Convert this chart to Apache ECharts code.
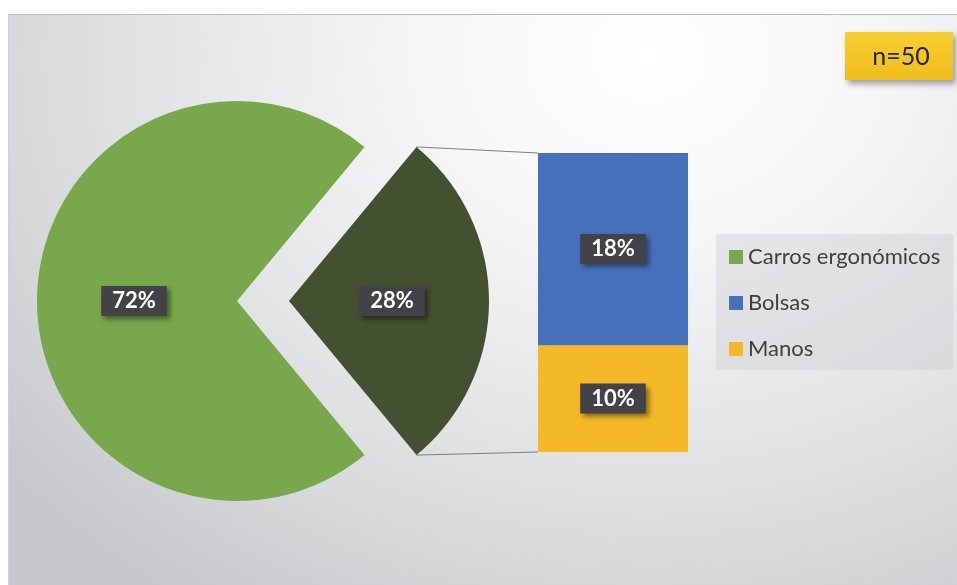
<!DOCTYPE html>
<html>
<head>
<meta charset="utf-8">
<script src="https://cdn.jsdelivr.net/npm/echarts@6/dist/echarts.min.js"></script>
<style>
  html, body { margin: 0; padding: 0; background: #ffffff; }
  #panel {
    position: absolute; left: 8px; top: 14px; width: 949px; height: 571px;
    border-top: 1px solid #bcbdc4; border-left: 1px solid #d0d1d5;
    background: radial-gradient(ellipse 820px 660px at 640px 40px,
      #ffffff 0%, #f6f6f7 28%, #e4e5e7 58%, #d6d7d9 80%, #c7c8cc 100%);
  }
  #chart { position: absolute; left: 0; top: 0; width: 957px; height: 585px; }
</style>
</head>
<body>
<div id="panel"></div>
<div id="chart"></div>
<script>
// Main pie: share of carts vs. everything else (percent)
const pieNames = ['Carros ergonómicos', 'Otros'];
const pieValues = [72, 28];
// Breakdown of "Otros" shown as a stacked bar (percent)
const barNames = ['Bolsas', 'Manos'];
const barValues = [18, 10];
// Legend order
const legendNames = ['Carros ergonómicos', 'Bolsas', 'Manos'];
const sampleSize = 'n=50';

const colors = {
  'Carros ergonómicos': '#78a84b',
  'Otros': '#435130',
  'Bolsas': '#4670ba',
  'Manos': '#f4b926'
};

const pieCenter = [237, 301];
const pieRadius = 200;
const explode = 52;
const otrosShare = pieValues[1] / (pieValues[0] + pieValues[1]);
// "Otros" slice is drawn first and centred on the right-hand side
const startAngle = 360 * otrosShare / 2;

const labelBox = {
  show: true,
  formatter: '{c}%',
  color: '#ffffff',
  fontFamily: 'Lato',
  fontWeight: 'bold',
  fontSize: 22,
  lineHeight: 22,
  backgroundColor: '#434347',
  padding: [4, 11, 4, 11],
  shadowColor: 'rgba(0,0,0,0.45)',
  shadowBlur: 5,
  shadowOffsetX: 3,
  shadowOffsetY: 3
};

const chart = echarts.init(document.getElementById('chart'), null, { renderer: 'canvas' });

const barTotal = barValues.reduce((a, b) => a + b, 0);

chart.setOption({
  animation: false,
  legend: {
    data: legendNames,
    orient: 'vertical',
    left: 716,
    top: 234,
    padding: [12, 13, 10, 13],
    itemGap: 24,
    itemWidth: 14,
    itemHeight: 14,
    icon: 'rect',
    backgroundColor: 'rgba(205,206,210,0.4)',
    selectedMode: false,
    textStyle: { fontFamily: 'Lato', fontSize: 22, color: '#404040', lineHeight: 20, padding: [0, 0, 0, 0] }
  },
  grid: { left: 538, top: 153, width: 150, height: 299 },
  xAxis: { type: 'category', data: [''], show: false },
  yAxis: { type: 'value', min: 0, max: barTotal, show: false },
  series: [
    {
      type: 'pie',
      center: pieCenter,
      radius: pieRadius,
      startAngle: startAngle,
      clockwise: true,
      selectedMode: 'single',
      selectedOffset: explode,
      label: Object.assign({ position: 'inside' }, labelBox),
      labelLine: { show: false },
      emphasis: { disabled: true },
      data: [
        { name: pieNames[1], value: pieValues[1], selected: true,
          itemStyle: { color: colors[pieNames[1]] },
          select: { itemStyle: { color: colors[pieNames[1]] } } },
        { name: pieNames[0], value: pieValues[0],
          itemStyle: { color: colors[pieNames[0]] } }
      ]
    },
    // stacked from the bottom: Manos first, Bolsas on top
    {
      name: barNames[1], type: 'bar', stack: 'otros', barWidth: '100%',
      data: [barValues[1]], itemStyle: { color: colors[barNames[1]] },
      label: Object.assign({ position: 'inside' }, labelBox),
      emphasis: { disabled: true }
    },
    {
      name: barNames[0], type: 'bar', stack: 'otros', barWidth: '100%',
      data: [barValues[0]], itemStyle: { color: colors[barNames[0]] },
      label: Object.assign({ position: 'inside' }, labelBox),
      emphasis: { disabled: true }
    }
  ]
});

// Connector lines from the exploded slice corners to the bar corners
const half = (360 * otrosShare / 2) * Math.PI / 180;
const cx = pieCenter[0] + explode, cy = pieCenter[1];
const sliceTop = [cx + pieRadius * Math.cos(half), cy - pieRadius * Math.sin(half)];
const sliceBot = [cx + pieRadius * Math.cos(half), cy + pieRadius * Math.sin(half)];
const barLeft = chart.convertToPixel({ gridIndex: 0 }, [0, 0])[0] - 75;
const barTopY = chart.convertToPixel({ yAxisIndex: 0 }, barTotal);
const barBotY = chart.convertToPixel({ yAxisIndex: 0 }, 0);

chart.setOption({
  graphic: [
    { type: 'line', shape: { x1: sliceTop[0], y1: sliceTop[1], x2: barLeft, y2: barTopY },
      style: { stroke: '#7f7f7f', lineWidth: 1 }, z: 1 },
    { type: 'line', shape: { x1: sliceBot[0], y1: sliceBot[1], x2: barLeft, y2: barBotY },
      style: { stroke: '#7f7f7f', lineWidth: 1 }, z: 1 },
    {
      type: 'group', left: 845, top: 32,
      children: [
        { type: 'rect', shape: { width: 108, height: 48 },
          style: {
            fill: new echarts.graphic.LinearGradient(0, 0, 0, 1, [
              { offset: 0, color: '#f7cf32' },
              { offset: 1, color: '#efbd1c' }
            ]),
            shadowColor: 'rgba(0,0,0,0.35)', shadowBlur: 6, shadowOffsetX: 3, shadowOffsetY: 4
          } },
        { type: 'text', x: 56, y: 25,
          style: { text: sampleSize, fontFamily: 'Lato', fontSize: 25, fill: '#262626',
                   align: 'center', verticalAlign: 'middle' } }
      ]
    }
  ]
});
</script>
</body>
</html>
